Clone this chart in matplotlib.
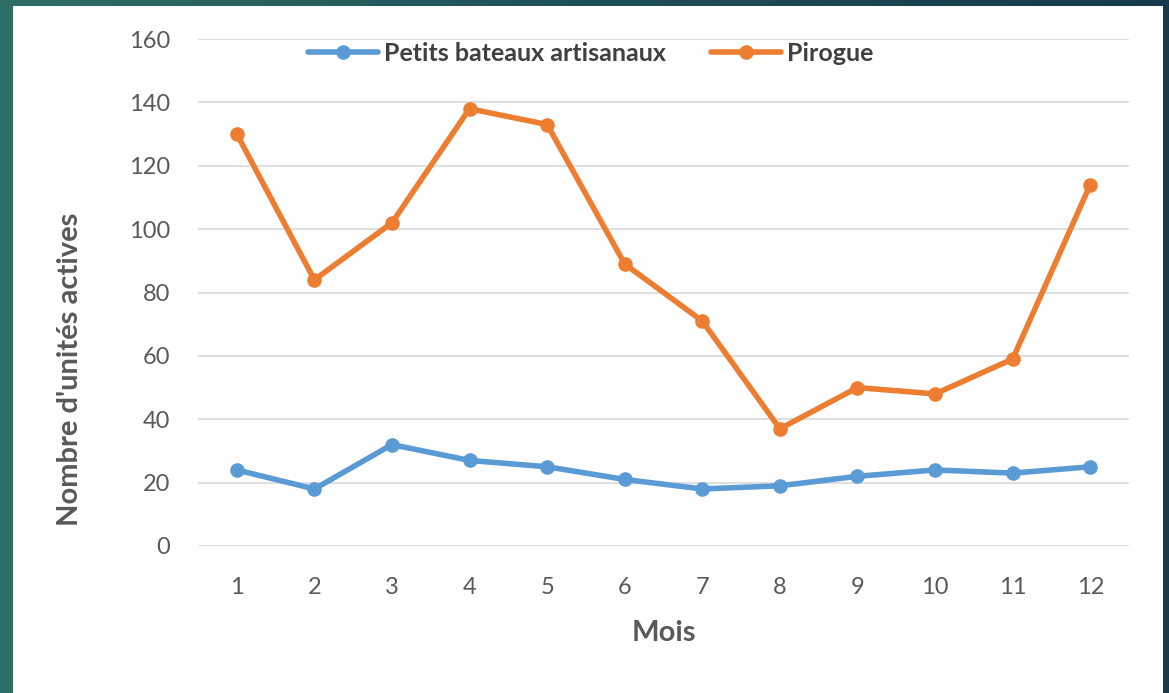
import numpy as np
import matplotlib
matplotlib.use("Agg")
import matplotlib.pyplot as plt
from matplotlib.colors import LinearSegmentedColormap
from matplotlib.patches import Rectangle

# data
mois = [1, 2, 3, 4, 5, 6, 7, 8, 9, 10, 11, 12]
petits_bateaux = [24, 18, 32, 27, 25, 21, 18, 19, 22, 24, 23, 25]
pirogue = [130, 84, 102, 138, 133, 89, 71, 37, 50, 48, 59, 114]
yticks = [0, 20, 40, 60, 80, 100, 120, 140, 160]

W, H = 1169, 693
fig = plt.figure(figsize=(W / 100, H / 100), dpi=100)

# teal -> dark blue backdrop behind the white panel
bg = fig.add_axes([0, 0, 1, 1], zorder=-10)
bg_cmap = LinearSegmentedColormap.from_list("bg", ["#2f6f69", "#1f5058", "#163a4b"])
grad = np.linspace(0, 1, 256).reshape(1, -1)
bg.imshow(grad, cmap=bg_cmap, aspect="auto", extent=[0, 1, 0, 1])
bg.add_patch(Rectangle((13 / W, 0), (1163 - 13) / W, (H - 6) / H,
                       facecolor="white", edgecolor="none", transform=bg.transAxes))
bg.set_xlim(0, 1)
bg.set_ylim(0, 1)
bg.axis("off")

ax = fig.add_axes([198 / W, 1 - 546 / H, (1129 - 198) / W, (546 - 39) / H])
ax.set_facecolor("none")

blue = "#5b9bd5"
orange = "#ed7d31"
ax.plot(mois, petits_bateaux, color=blue, lw=4, marker="o", ms=9.5,
        label="Petits bateaux artisanaux", solid_capstyle="round")
ax.plot(mois, pirogue, color=orange, lw=4, marker="o", ms=9.5,
        label="Pirogue", solid_capstyle="round")

ax.set_xlim(0.5, 12.5)
ax.set_ylim(0, 160)
ax.set_xticks(mois)
ax.set_yticks(yticks)
ax.grid(axis="y", color="#d9d9d9", lw=1.2)
ax.set_axisbelow(True)
for s in ax.spines.values():
    s.set_visible(False)
ax.tick_params(length=0, labelsize=17, colors="#595959")
ax.tick_params(axis="x", pad=22)
ax.tick_params(axis="y", pad=20)
for lab in ax.get_xticklabels() + ax.get_yticklabels():
    lab.set_fontfamily("Lato")

ax.set_xlabel("Mois", fontsize=21, fontweight="bold", color="#595959",
              family="Lato", labelpad=16)
ax.set_ylabel("Nombre d'unités actives", fontsize=21, fontweight="bold",
              color="#595959", family="Lato")
# the y title sits below the middle of the axis in the reference
ax.yaxis.set_label_coords(-0.123, 0.349)

leg = ax.legend(loc="center", bbox_to_anchor=(0.422, 0.972), ncol=2, frameon=False,
                prop={"family": "Lato", "weight": "bold", "size": 18},
                handlelength=2.8, handletextpad=0.25, columnspacing=1.8)
for t in leg.get_texts():
    t.set_color("#404040")

fig.savefig("out.png", dpi=100)
